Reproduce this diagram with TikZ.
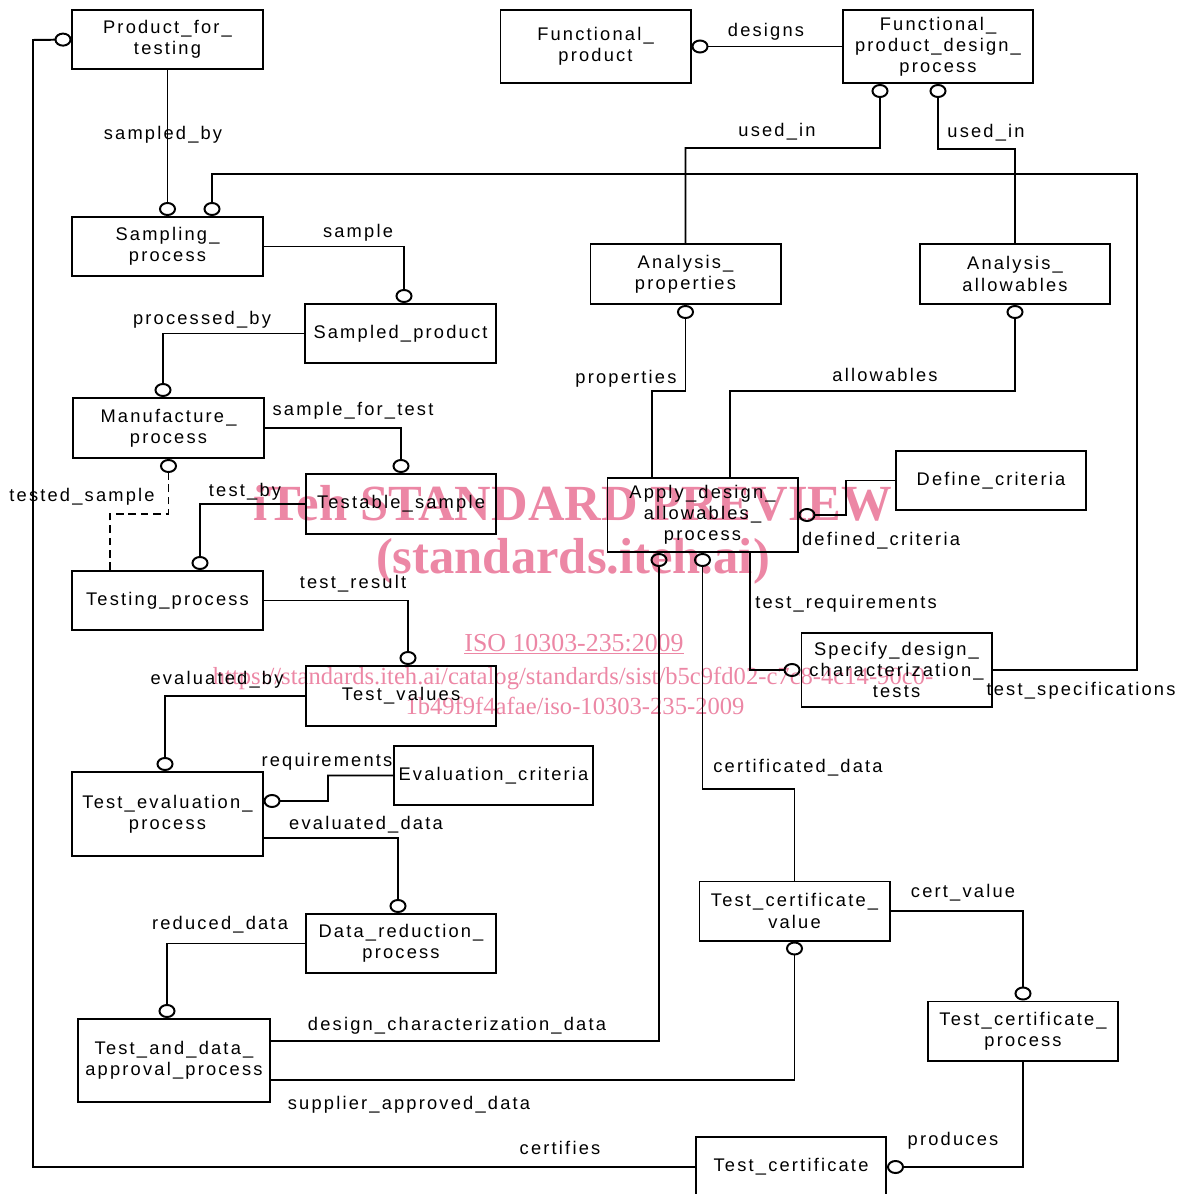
\documentclass[tikz,border=0pt]{standalone}
\usepackage{fontspec}
\setmainfont{Liberation Sans}[LetterSpace=12]
\newfontfamily\wmfont{Liberation Serif}
\usetikzlibrary{arrows.meta}
\definecolor{wmpink}{RGB}{236,135,165}

\begin{document}
\begin{tikzpicture}[x=0.025cm, y=-0.025cm]

\tikzset{
    entity/.style={draw, line width=1.4pt, minimum width=4.75cm, minimum height=1.475cm, inner sep=2pt, align=center, font=\fontsize{13}{15}\selectfont},
    lbl/.style={inner sep=0pt, text height=10.5pt, text depth=1pt, font=\fontsize{13}{15}\selectfont},
    link/.style={line width=1.4pt},
    ringv/.style={link, -{Circle[open, length=0.35cm, width=0.425cm]}},
    ringh/.style={link, -{Circle[open, length=0.425cm, width=0.35cm]}},
    wm/.style={text=wmpink, inner sep=0pt, anchor=base}
}
\useasboundingbox (0,0) rectangle (1184,1194);

% watermark, behind the diagram
\node[wm, font=\wmfont\bfseries\fontsize{36}{36}\selectfont] (wmtitle) at (573,520) {iTeh STANDARD PREVIEW};
\node[wm, font=\wmfont\bfseries\fontsize{36}{36}\selectfont] (wmsite) at (573,573) {(standards.iteh.ai)};
\node[wm, font=\wmfont\fontsize{18.4}{20}\selectfont] (wmiso) at (574,651) {\underline{ISO 10303-235:2009}};
\node[wm, font=\wmfont\fontsize{17.5}{20}\selectfont] (wmurl) at (573,684) {https://standards.iteh.ai/catalog/standards/sist/b5c9fd02-c7c8-4c14-90c0-};
\node[wm, font=\wmfont\fontsize{17.5}{20}\selectfont] (wmurlb) at (575,714) {1b49f9f4afae/iso-10303-235-2009};

% entities
\node[entity] (pft) at (167.5,39.5) {Product\_for\_\\testing};
\node[entity, minimum height=1.825cm] (fp) at (595.5,46.5) {Functional\_\\product};
\node[entity, minimum height=1.825cm] (fpdp) at (938,46.5) {Functional\_\\product\_design\_\\process};
\node[entity] (sp) at (167.5,246.5) {Sampling\_\\process};
\node[entity] (sdp) at (400.5,333.5) {Sampled\_product};
\node[entity, minimum height=1.5cm] (ap) at (685.5,274) {Analysis\_\\properties};
\node[entity, minimum height=1.5cm] (aa) at (1015,274) {Analysis\_\\allowables};
\node[entity, minimum height=1.5cm, minimum width=4.775cm] (mp) at (168.5,428) {Manufacture\_\\process};
\node[entity, minimum height=1.5cm] (ts) at (401,504) {Testable\_sample};
\node[entity] (tp) at (167.5,600.5) {Testing\_process};
\node[entity, minimum height=1.5cm] (tv) at (401,696) {Test\_values};
\node[entity, minimum height=1.85cm] (adap) at (702.5,515) {Apply\_design\_\\allowables\_\\process};
\node[entity] (dc) at (991,480.5) {Define\_criteria};
\node[entity, minimum height=1.85cm] (sdct) at (896.5,670) {Specify\_design\_\\characterization\_\\tests};
\node[entity, minimum width=4.975cm] (ec) at (493.5,775.5) {Evaluation\_criteria};
\node[entity, minimum height=2.1cm] (tep) at (167.5,814) {Test\_evaluation\_\\process};
\node[entity] (drp) at (401,943.5) {Data\_reduction\_\\process};
\node[entity, minimum width=4.8cm, minimum height=2.075cm] (tdap) at (174,1060.5) {Test\_and\_data\_\\approval\_process};
\node[entity] (tcv) at (794.5,911) {Test\_certificate\_\\value};
\node[entity] (tcp) at (1023,1031) {Test\_certificate\_\\process};
\node[entity, minimum height=1.5cm] (tc) at (791,1167) {Test\_certificate};

% relationships
\draw[ringv] (pft.south) -- (sp.north);
\draw[ringv] (sdct.east) -| (1137,174) -| ([xshift=1.1125cm]sp.north);
\draw[ringv] (sp.east) -| ([xshift=0.0875cm]sdp.north);
\draw[ringv] (sdp.west) -| ([xshift=-0.1375cm]mp.north);
\draw[ringh] (fpdp.west) -- (fp.east);
\draw[ringv] (ap.north) |- (880,148) -- ([xshift=-1.45cm]fpdp.south);
\draw[ringv] (aa.north) |- (938,149) -- (fpdp.south);
\draw[ringv] ([xshift=-1.2625cm]adap.north) |- (685.5,391) -- (ap.south);
\draw[ringv] ([xshift=0.6875cm]adap.north) |- (1015,391) -- (aa.south);
\draw[ringh] (dc.west) -| (846,515) -- (adap.east);
\draw[ringh] ([xshift=1.1875cm]adap.south) |- (sdct.west);
\draw[ringv] ([yshift=0.4875cm]tdap.east) -| ([xshift=-1.0875cm]adap.south);
\draw[ringv] (tcv.north) |- (702.5,789) -- (adap.south);
\draw[ringv] ([yshift=-0.4875cm]tdap.east) -| (tcv.south);
\draw[ringv] (tcv.east) -| (tcp.north);
\draw[ringh] (tcp.south) |- (tc.east);
\draw[ringh] (tc.west) -| (33,40) -- (pft.west);
\draw[ringv] (mp.east) -| (ts.north);
\draw[ringv, dash pattern=on 0.19cm off 0.12cm] ([xshift=-1.4375cm]tp.north) |- (168.5,514) -- (mp.south);
\draw[ringv] (ts.west) -| ([xshift=0.8125cm]tp.north);
\draw[ringv] (tp.east) -| ([xshift=0.175cm]tv.north);
\draw[ringv] (tv.west) -| ([xshift=-0.0625cm]tep.north);
\draw[ringh] (ec.west) -| (328,801) -- ([yshift=0.325cm]tep.east);
\draw[ringv] ([yshift=-0.6cm]tep.east) -| ([xshift=-0.075cm]drp.north);
\draw[ringv] (drp.west) -| ([xshift=-0.175cm]tdap.north);

% relationship names
\node[lbl] (lsampledby) at (163,133) {sampled\_by};
\node[lbl] (lsample) at (358,231) {sample};
\node[lbl] (lprocessedby) at (202,318) {processed\_by};
\node[lbl] (ldesigns) at (766,30) {designs};
\node[lbl] (lusedina) at (777,130) {used\_in};
\node[lbl] (lusedinb) at (986,131) {used\_in};
\node[lbl] (lproperties) at (626,377) {properties};
\node[lbl] (lallowables) at (885,375) {allowables};
\node[lbl] (lsamplefortest) at (353,409) {sample\_for\_test};
\node[lbl] (ltestedsample) at (82,495) {tested\_sample};
\node[lbl] (ltestby) at (245,490) {test\_by};
\node[lbl] (ltestresult) at (353,582) {test\_result};
\node[lbl] (levaluatedby) at (217,678) {evaluated\_by};
\node[lbl] (lrequirements) at (327,760) {requirements};
\node[lbl] (levaluateddata) at (366,823) {evaluated\_data};
\node[lbl] (lreduceddata) at (220,923) {reduced\_data};
\node[lbl] (ldesignchar) at (457,1024) {design\_characterization\_data};
\node[lbl] (lsupplier) at (409,1103) {supplier\_approved\_data};
\node[lbl] (lcertifies) at (560,1148) {certifies};
\node[lbl] (ldefined) at (881,539) {defined\_criteria};
\node[lbl] (ltestreq) at (846,602) {test\_requirements};
\node[lbl] (ltestspec) at (1081,689) {test\_specifications};
\node[lbl] (lcertificated) at (798,766) {certificated\_data};
\node[lbl] (lcertvalue) at (963,891) {cert\_value};
\node[lbl] (lproduces) at (953,1139) {produces};

\end{tikzpicture}
\end{document}
